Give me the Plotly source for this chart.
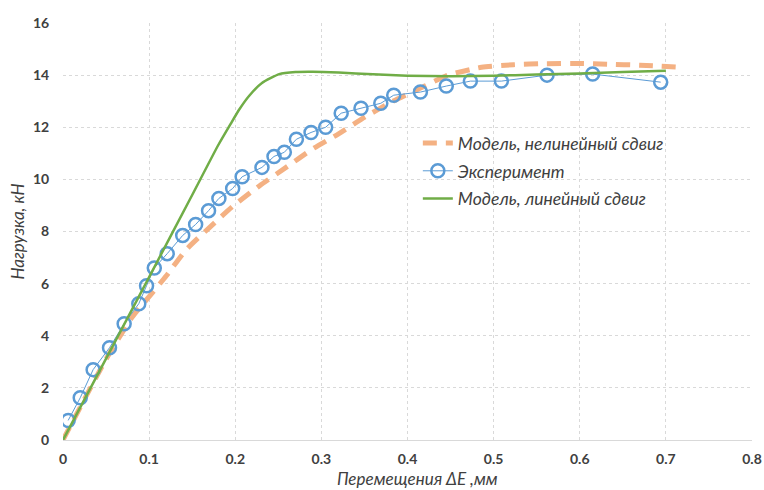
import plotly.graph_objects as go

# Experiment: displacement (mm) vs load (kN)
exp_x = [0.006, 0.020, 0.035, 0.054, 0.071, 0.088, 0.097, 0.106, 0.121, 0.139,
         0.154, 0.169, 0.181, 0.197, 0.208, 0.231, 0.245, 0.257, 0.271, 0.288,
         0.305, 0.323, 0.346, 0.369, 0.384, 0.415, 0.445, 0.473, 0.509, 0.562,
         0.615, 0.694]
exp_y = [0.75, 1.62, 2.70, 3.54, 4.46, 5.23, 5.92, 6.60, 7.15, 7.85,
         8.27, 8.80, 9.27, 9.65, 10.10, 10.46, 10.88, 11.04, 11.54, 11.80,
         12.00, 12.54, 12.73, 12.92, 13.23, 13.35, 13.58, 13.77, 13.77, 14.00,
         14.04, 13.73]

# Model with nonlinear shear
nl_x = [0.0, 0.05, 0.08, 0.10, 0.12, 0.143, 0.17, 0.197, 0.228, 0.259, 0.289,
        0.32, 0.351, 0.381, 0.42, 0.447, 0.486, 0.523, 0.56, 0.60, 0.632, 0.67,
        0.716]
nl_y = [0.0, 3.10, 4.70, 5.50, 6.30, 7.30, 8.15, 8.96, 9.75, 10.46, 11.15,
        11.75, 12.40, 12.96, 13.58, 14.00, 14.30, 14.40, 14.44, 14.45, 14.42,
        14.38, 14.30]

# Model with linear shear
lin_x = [0.0, 0.05, 0.10, 0.15, 0.18, 0.195, 0.205, 0.216, 0.231, 0.251, 0.27,
         0.29, 0.32, 0.36, 0.40, 0.45, 0.50, 0.55, 0.60, 0.65, 0.70]
lin_y = [0.0, 3.12, 6.25, 9.40, 11.30, 12.15, 12.70, 13.20, 13.70, 14.04, 14.12,
         14.13, 14.10, 14.03, 13.98, 13.96, 13.98, 14.02, 14.06, 14.12, 14.17]

x_ticks = [0, 0.1, 0.2, 0.3, 0.4, 0.5, 0.6, 0.7, 0.8]
y_ticks = [0, 2, 4, 6, 8, 10, 12, 14, 16]

FONT = "Lato"
TEXT = "#404040"

fig = go.Figure()

fig.add_trace(go.Scatter(
    x=nl_x, y=nl_y, mode="lines", name="Модель, нелинейный сдвиг", legendgroup="a",
    line=dict(color="#F4B183", width=5, dash="14px,9px", shape="spline", smoothing=0.6),
))
fig.add_trace(go.Scatter(
    x=exp_x, y=exp_y, mode="lines+markers", name="Эксперимент", legendgroup="b",
    line=dict(color="#5B9BD5", width=1),
    marker=dict(symbol="circle-open", size=13, color="#5B9BD5", line=dict(width=2.5, color="#5B9BD5")),
))
fig.add_trace(go.Scatter(
    x=lin_x, y=lin_y, mode="lines", name="Модель, линейный сдвиг", legendgroup="c",
    line=dict(color="#70AD47", width=2.5, shape="spline", smoothing=0.5),
))

fig.update_layout(
    width=764, height=490,
    margin=dict(l=63, r=12, t=23, b=50),
    paper_bgcolor="white", plot_bgcolor="white",
    font=dict(family=FONT, color=TEXT),
    showlegend=True,
    legend=dict(
        x=0.515, y=0.755, xanchor="left", yanchor="top",
        bgcolor="rgba(0,0,0,0)",
        font=dict(family=FONT, size=17.5, color=TEXT, style="italic"),
        itemwidth=30, traceorder="grouped", tracegroupgap=2,
    ),
    annotations=[dict(
        text="Перемещения ΔE ,мм", xref="paper", yref="paper",
        x=(417 - 63) / 689, y=-38 / 417, xanchor="center", yanchor="middle",
        borderpad=0, showarrow=False,
        font=dict(family=FONT, size=17, color=TEXT, style="italic"),
    )],
)

fig.update_xaxes(
    range=[0, 0.8], tickvals=x_ticks, ticktext=[f"{v:g}" for v in x_ticks],
    automargin=False,
    showgrid=True, gridcolor="#D9D9D9", griddash="dot", gridwidth=1,
    showline=True, linecolor="#D9D9D9", linewidth=1, zeroline=False,
    tickfont=dict(family=FONT, size=14, color=TEXT, weight="bold"),
    ticks="outside", ticklen=6, tickcolor="rgba(0,0,0,0)",
)
fig.update_yaxes(
    range=[0, 16], tickvals=y_ticks,
    automargin=False,
    showgrid=True, gridcolor="#D9D9D9", griddash="dot", gridwidth=1,
    showline=False, zeroline=False,
    tickfont=dict(family=FONT, size=14, color=TEXT, weight="bold"),
    ticks="outside", ticklen=10, tickcolor="rgba(0,0,0,0)",
    title=dict(text="Нагрузка, кН", standoff=4,
               font=dict(family=FONT, size=17, color=TEXT, style="italic")),
)

fig.write_html("out.html")
